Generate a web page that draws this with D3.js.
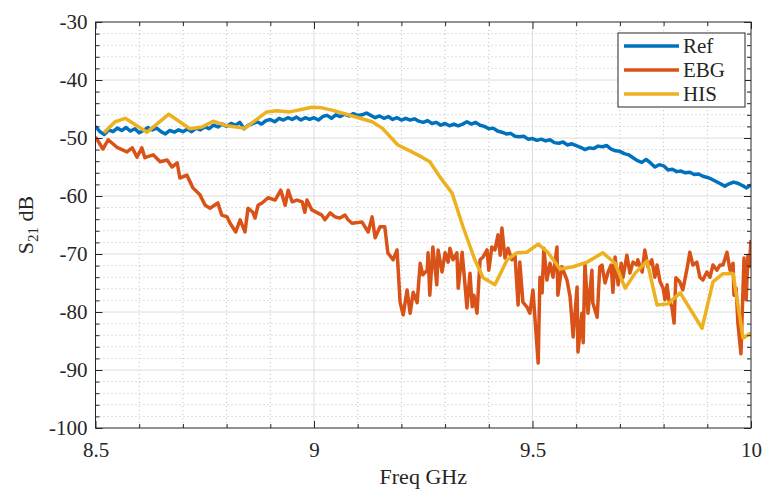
<!DOCTYPE html>
<html>
<head>
<meta charset="utf-8">
<script src="https://cdn.jsdelivr.net/npm/d3@7"></script>
<style>
  body { margin: 0; background: #fff; }
  text { font-family: "Liberation Serif", "DejaVu Serif", serif; fill: #262626; }
</style>
</head>
<body>
<svg id="chart" width="765" height="491"></svg>
<script>
// ---- data ----
const xTicks = [8.5, 9, 9.5, 10];
const yTicks = [-100, -90, -80, -70, -60, -50, -40, -30];
const seriesNames = ["Ref", "EBG", "HIS"];
const seriesColors = ["#0072BD", "#D95319", "#EDB120"];

// Ref: uniform sweep 8.50 .. 10.00 GHz, 0.01 GHz step
const refStart = 8.5, refStep = 0.01;
const refValues = [
  -48.0,-48.9,-49.4,-48.6,-48.9,-48.3,-48.7,-48.2,-48.8,-48.4,
  -49.1,-48.7,-48.2,-48.6,-48.3,-48.9,-49.3,-48.7,-49.0,-48.6,
  -48.9,-48.5,-48.9,-48.3,-48.6,-48.1,-48.4,-47.8,-48.1,-47.6,
  -48.0,-47.5,-47.8,-47.3,-48.4,-47.8,-47.5,-47.2,-47.6,-47.0,
  -46.8,-47.2,-46.6,-46.9,-46.5,-46.8,-46.4,-46.9,-46.5,-46.8,
  -46.5,-46.9,-46.3,-46.1,-46.6,-46.0,-46.3,-45.9,-46.2,-45.8,
  -46.1,-46.0,-45.7,-46.1,-46.5,-46.2,-46.6,-46.3,-46.8,-46.5,
  -46.9,-46.6,-46.9,-46.7,-47.1,-47.3,-47.0,-47.5,-47.3,-47.8,
  -47.5,-47.9,-47.6,-47.9,-47.6,-47.2,-47.6,-47.3,-47.8,-48.0,
  -48.4,-48.3,-48.8,-49.0,-49.3,-49.2,-49.7,-49.8,-49.7,-50.2,
  -50.1,-50.4,-50.2,-50.5,-50.3,-50.8,-50.9,-50.7,-51.2,-51.0,
  -51.3,-51.6,-52.0,-51.7,-51.8,-51.4,-51.5,-51.3,-51.9,-52.2,
  -52.3,-52.7,-52.9,-53.4,-53.9,-54.2,-53.7,-54.3,-55.0,-54.6,
  -54.8,-55.5,-55.4,-55.8,-55.7,-56.0,-55.9,-56.3,-56.2,-56.6,
  -56.8,-57.1,-57.5,-57.9,-58.3,-57.9,-57.6,-57.8,-58.2,-58.6,
  -58.1
];

// EBG: frequency / value pairs
const ebgFreq = [
  8.500,8.517,8.529,8.549,8.563,8.572,8.584,8.595,8.606,8.613,
  8.632,8.648,8.664,8.675,8.687,8.693,8.709,8.723,8.739,8.751,
  8.762,8.780,8.789,8.801,8.808,8.821,8.831,8.842,8.849,8.860,
  8.865,8.872,8.881,8.895,8.911,8.924,8.934,8.941,8.950,8.961,
  8.973,8.979,8.984,8.995,9.018,9.025,9.037,9.048,9.059,9.071,
  9.078,9.087,9.110,9.124,9.133,9.140,9.151,9.162,9.169,9.181,
  9.190,9.197,9.204,9.213,9.220,9.227,9.236,9.243,9.249,9.259,
  9.261,9.265,9.272,9.281,9.284,9.293,9.300,9.307,9.311,9.318,
  9.327,9.330,9.339,9.346,9.350,9.357,9.362,9.366,9.373,9.380,
  9.387,9.396,9.400,9.407,9.414,9.421,9.426,9.430,9.437,9.444,
  9.453,9.460,9.467,9.471,9.478,9.487,9.494,9.501,9.513,9.517,
  9.522,9.526,9.533,9.540,9.547,9.556,9.558,9.567,9.579,9.586,
  9.593,9.602,9.604,9.613,9.616,9.620,9.627,9.636,9.638,9.648,
  9.654,9.659,9.666,9.673,9.680,9.684,9.689,9.696,9.703,9.707,
  9.716,9.723,9.730,9.739,9.741,9.751,9.757,9.764,9.773,9.780,
  9.785,9.792,9.799,9.803,9.808,9.812,9.819,9.824,9.828,9.837,
  9.844,9.854,9.860,9.867,9.876,9.883,9.890,9.899,9.906,9.913,
  9.922,9.929,9.936,9.945,9.952,9.959,9.961,9.966,9.970,9.977,
  9.982,9.984,9.989,9.993,9.996,10.000
];
const ebgValues = [
  -49.8,-51.9,-50.3,-51.6,-52.1,-52.4,-51.7,-53.3,-51.7,-53.4,
  -52.9,-54.1,-53.8,-55.0,-54.3,-56.9,-56.4,-58.6,-59.8,-61.6,
  -62.1,-61.2,-63.3,-63.6,-64.7,-66.2,-64.1,-66.2,-62.1,-62.8,
  -63.8,-61.6,-61.2,-60.3,-60.7,-59.0,-61.6,-59.0,-61.0,-60.7,
  -61.0,-62.8,-60.7,-62.4,-63.3,-64.1,-62.9,-63.6,-63.8,-63.3,
  -64.1,-64.7,-64.5,-66.2,-63.6,-67.2,-65.3,-65.3,-69.8,-71.0,
  -69.3,-78.3,-80.5,-76.2,-80.2,-76.6,-78.4,-71.6,-73.6,-72.8,
  -69.8,-77.1,-68.8,-75.3,-69.3,-73.1,-69.8,-71.4,-69.0,-71.0,
  -69.8,-75.9,-69.7,-75.7,-79.3,-73.3,-79.1,-77.1,-80.2,-71.0,
  -70.5,-69.3,-72.8,-68.8,-69.3,-66.7,-70.2,-65.5,-70.7,-69.0,
  -71.0,-70.2,-78.8,-71.4,-78.3,-79.1,-80.2,-76.2,-88.8,-74.0,
  -76.7,-69.0,-74.5,-71.6,-74.0,-68.8,-77.1,-72.2,-74.5,-77.4,
  -84.3,-75.7,-86.9,-80.2,-85.3,-71.6,-80.2,-72.8,-78.4,-80.9,
  -72.2,-71.9,-75.0,-73.1,-71.9,-76.6,-70.5,-75.3,-71.6,-74.1,
  -70.2,-73.3,-71.4,-71.9,-71.0,-73.1,-69.3,-72.2,-71.0,-74.0,
  -71.9,-74.8,-75.9,-77.9,-75.3,-77.9,-79.1,-81.9,-74.1,-74.8,
  -76.2,-72.4,-69.7,-71.9,-71.4,-74.0,-74.5,-73.1,-74.0,-71.9,
  -72.8,-71.9,-71.9,-69.7,-72.8,-71.6,-77.1,-75.9,-81.9,-87.2,
  -75.3,-70.7,-77.9,-70.2,-72.2,-67.6
];

// HIS: coarse frequency / value pairs
const hisFreq = [
  8.519,8.545,8.568,8.618,8.668,8.716,8.744,8.769,8.801,8.842,
  8.892,8.915,8.945,8.995,9.018,9.041,9.078,9.133,9.156,9.192,
  9.224,9.247,9.265,9.288,9.316,9.341,9.368,9.387,9.414,9.442,
  9.464,9.487,9.513,9.535,9.563,9.593,9.625,9.661,9.689,9.712,
  9.735,9.762,9.785,9.810,9.838,9.888,9.913,9.936,9.959,9.982,
  10.000
];
const hisValues = [
  -49.1,-47.2,-46.6,-49.0,-45.9,-48.4,-48.1,-47.1,-47.9,-48.3,
  -45.5,-45.3,-45.5,-44.7,-44.8,-45.2,-46.0,-47.2,-48.3,-51.2,
  -52.4,-53.3,-54.1,-56.7,-59.5,-65.3,-71.0,-74.1,-75.3,-71.0,
  -69.8,-69.7,-68.3,-69.7,-72.6,-72.2,-71.4,-69.8,-71.6,-75.9,
  -73.3,-71.2,-78.8,-78.6,-76.7,-82.8,-74.8,-73.4,-73.4,-84.5,
  -83.6
];

// ---- layout ----
const svg = d3.select("#chart");
const plotLeft = 95.5, plotRight = 751, plotTop = 22, plotBottom = 428;

const x = d3.scaleLinear().domain([8.5, 10]).range([plotLeft, plotRight]);
const y = d3.scaleLinear().domain([-100, -30]).range([plotBottom, plotTop]);

const refData = refValues.map((v, i) => [refStart + i * refStep, v]);
const ebgData = ebgFreq.map((f, i) => [f, ebgValues[i]]);
const hisData = hisFreq.map((f, i) => [f, hisValues[i]]);
const allSeries = [refData, ebgData, hisData];

const minorX = d3.range(8.6, 10, 0.1).filter(v => Math.abs(v * 2 - Math.round(v * 2)) > 1e-6);
const minorY = d3.range(-98, -30, 2).filter(v => v % 10 !== 0);

// grid
const grid = svg.append("g");
grid.selectAll(".mx").data(minorX).join("line")
    .attr("x1", d => x(d)).attr("x2", d => x(d))
    .attr("y1", plotTop).attr("y2", plotBottom)
    .attr("stroke", "#bdbdbd").attr("stroke-width", 1).attr("stroke-dasharray", "1,3");
grid.selectAll(".my").data(minorY).join("line")
    .attr("y1", d => y(d)).attr("y2", d => y(d))
    .attr("x1", plotLeft).attr("x2", plotRight)
    .attr("stroke", "#bdbdbd").attr("stroke-width", 1).attr("stroke-dasharray", "1,3");
grid.selectAll(".gx").data(xTicks.slice(1, -1)).join("line")
    .attr("x1", d => x(d)).attr("x2", d => x(d))
    .attr("y1", plotTop).attr("y2", plotBottom)
    .attr("stroke", "#dcdcdc").attr("stroke-width", 1);
grid.selectAll(".gy").data(yTicks.slice(1, -1)).join("line")
    .attr("y1", d => y(d)).attr("y2", d => y(d))
    .attr("x1", plotLeft).attr("x2", plotRight)
    .attr("stroke", "#dcdcdc").attr("stroke-width", 1);

// lines
svg.append("clipPath").attr("id", "clip")
    .append("rect").attr("x", plotLeft).attr("y", plotTop)
    .attr("width", plotRight - plotLeft).attr("height", plotBottom - plotTop);

const line = d3.line().x(d => x(d[0])).y(d => y(d[1]));
svg.append("g").attr("clip-path", "url(#clip)")
    .selectAll("path").data(allSeries).join("path")
    .attr("d", line)
    .attr("fill", "none")
    .attr("stroke", (d, i) => seriesColors[i])
    .attr("stroke-width", 3.5)
    .attr("stroke-linejoin", "round");

// axes: inward ticks on all four sides
const axisColor = "#262626";
const hyphenFmt = d => String(d);   // plain hyphen like the original, not U+2212
function styleAxis(g) {
    g.select(".domain").remove();
    g.selectAll("line").attr("stroke", axisColor);
}
svg.append("g").attr("transform", `translate(0,${plotBottom})`)
    .call(d3.axisBottom(x).tickValues(xTicks).tickSize(-7).tickFormat(hyphenFmt).tickPadding(14))
    .call(styleAxis)
    .selectAll("text").attr("font-size", 21).attr("font-family", "Liberation Serif").attr("fill", axisColor);
svg.append("g").attr("transform", `translate(0,${plotBottom})`)
    .call(d3.axisBottom(x).tickValues(minorX).tickSize(-4).tickFormat(""))
    .call(styleAxis);
svg.append("g").attr("transform", `translate(0,${plotTop})`)
    .call(d3.axisTop(x).tickValues(xTicks).tickSize(-7).tickFormat(""))
    .call(styleAxis);
svg.append("g").attr("transform", `translate(0,${plotTop})`)
    .call(d3.axisTop(x).tickValues(minorX).tickSize(-4).tickFormat(""))
    .call(styleAxis);
svg.append("g").attr("transform", `translate(${plotLeft},0)`)
    .call(d3.axisLeft(y).tickValues(yTicks).tickSize(-7).tickFormat(hyphenFmt).tickPadding(8))
    .call(styleAxis)
    .selectAll("text").attr("font-size", 21).attr("font-family", "Liberation Serif").attr("fill", axisColor);
svg.append("g").attr("transform", `translate(${plotLeft},0)`)
    .call(d3.axisLeft(y).tickValues(minorY).tickSize(-4).tickFormat(""))
    .call(styleAxis);
svg.append("g").attr("transform", `translate(${plotRight},0)`)
    .call(d3.axisRight(y).tickValues(yTicks).tickSize(-7).tickFormat(""))
    .call(styleAxis);
svg.append("g").attr("transform", `translate(${plotRight},0)`)
    .call(d3.axisRight(y).tickValues(minorY).tickSize(-4).tickFormat(""))
    .call(styleAxis);

// box
svg.append("rect").attr("x", plotLeft).attr("y", plotTop)
    .attr("width", plotRight - plotLeft).attr("height", plotBottom - plotTop)
    .attr("fill", "none").attr("stroke", axisColor).attr("stroke-width", 1);

// axis labels
svg.append("text")
    .attr("x", (plotLeft + plotRight) / 2).attr("y", 484)
    .attr("text-anchor", "middle").attr("font-size", 22)
    .text("Freq GHz");
const yl = svg.append("text")
    .attr("transform", `translate(33,${(plotTop + plotBottom) / 2}) rotate(-90)`)
    .attr("text-anchor", "middle").attr("font-size", 22);
yl.append("tspan").text("S");
yl.append("tspan").attr("font-size", 15).attr("dy", 5).text("21");
yl.append("tspan").attr("dy", -5).text(" dB");

// legend
const legend = svg.append("g");
legend.append("rect").attr("x", 618).attr("y", 33).attr("width", 127).attr("height", 74)
    .attr("fill", "#fff").attr("stroke", axisColor).attr("stroke-width", 1);
const entries = legend.selectAll(".entry").data(seriesNames).join("g")
    .attr("transform", (d, i) => `translate(0,${46 + i * 24})`);
entries.append("line").attr("x1", 624).attr("x2", 679).attr("y1", 0).attr("y2", 0)
    .attr("stroke", (d, i) => seriesColors[i]).attr("stroke-width", 3.5);
entries.append("text").attr("x", 683).attr("y", 7).attr("font-size", 21)
    .attr("fill", "#000").text(d => d);
</script>
</body>
</html>
